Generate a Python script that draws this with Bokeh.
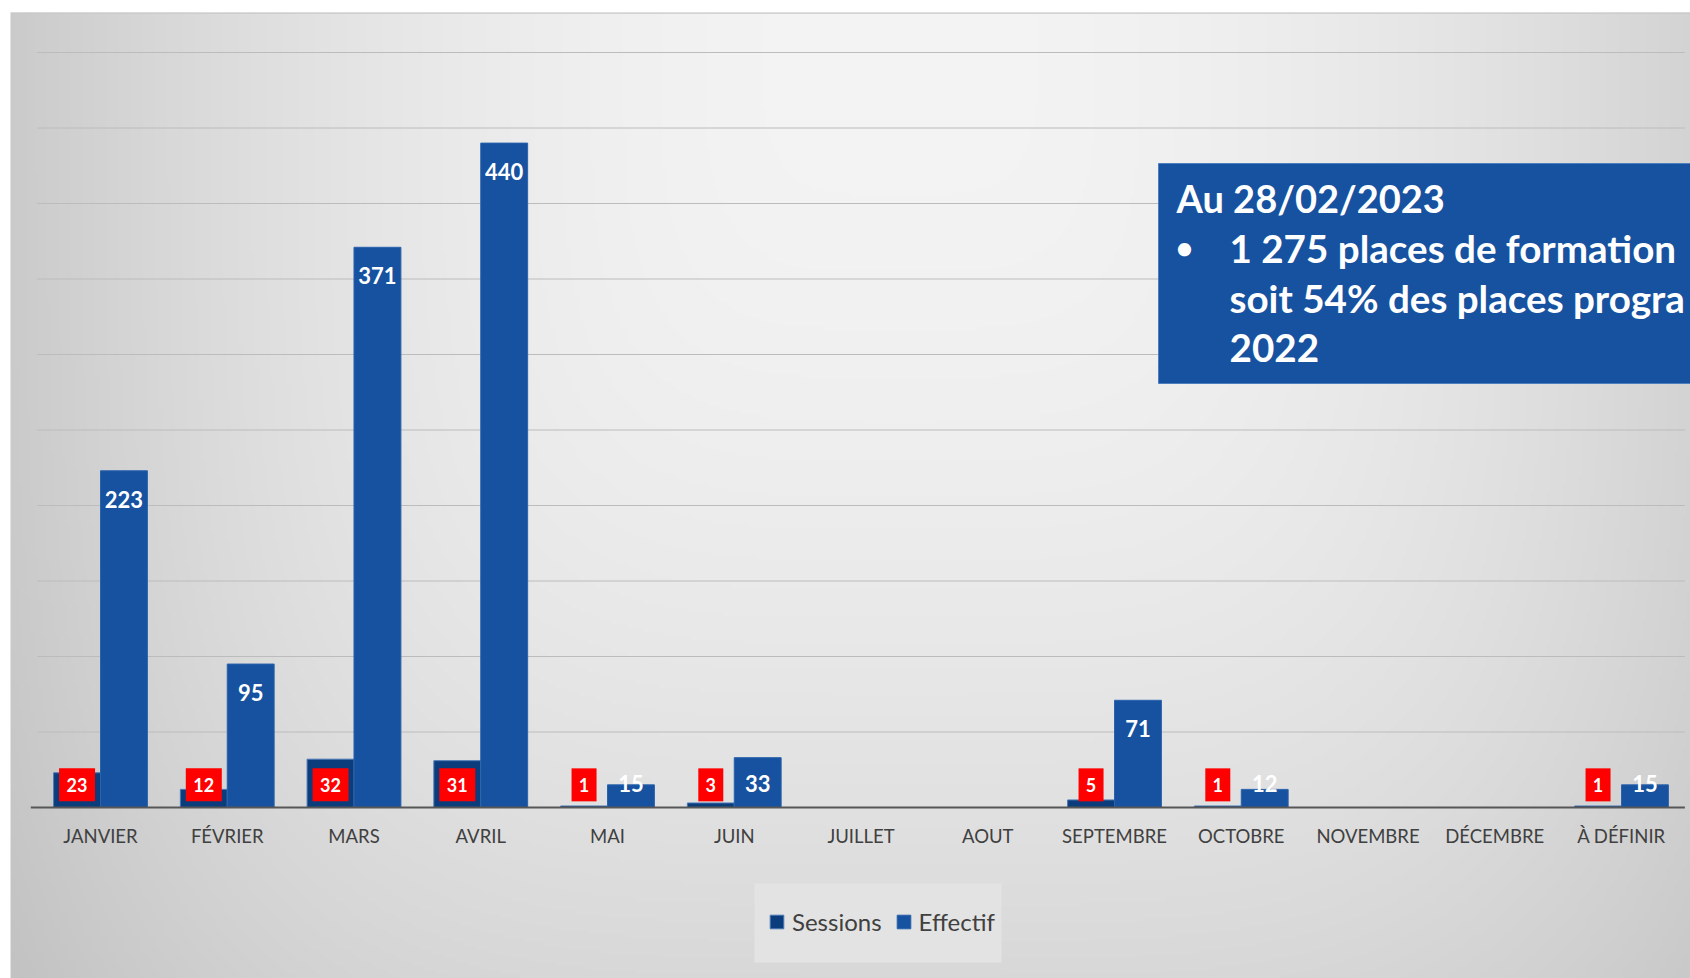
import numpy as np
from bokeh.plotting import figure
from bokeh.models import ColumnDataSource, Range1d, Legend, LegendItem
from bokeh.core.properties import value
from bokeh.transform import dodge
from bokeh.embed import file_html
from bokeh.resources import INLINE

# ---------------- data ----------------
categories = ["JANVIER", "FÉVRIER", "MARS", "AVRIL", "MAI", "JUIN", "JUILLET",
              "AOUT", "SEPTEMBRE", "OCTOBRE", "NOVEMBRE", "DÉCEMBRE", "À DÉFINIR"]
sessions = [23, 12, 32, 31, 1, 3, None, None, 5, 1, None, None, 1]
effectif = [223, 95, 371, 440, 15, 33, None, None, 71, 12, None, None, 15]
grid_values = [50, 100, 150, 200, 250, 300, 350, 400, 450, 500]
legend_labels = ["Sessions", "Effectif"]
note_title = "Au 28/02/2023"
note_lines = ["1 275 places de formation", "soit 54% des places progra", "2022"]

# ---------------- layout helpers (page pixels -> data) ----------------
W, H = 1690, 978
X0, DX = 100.0, 126.75   # page x of first category centre, px per category
Y0, DY = 807.0, 1.51     # page y of value 0, px per unit
LEFT, TOP = 10, 12       # panel origin on the page


def X(px):
    return (px - X0) / DX


def Y(py):
    return (Y0 - py) / DY


p = figure(width=W, height=H, output_backend="svg", toolbar_location=None,
           x_range=Range1d(X(LEFT), X(W)), y_range=Range1d(Y(H), Y(TOP)),
           x_axis_location=None, y_axis_location=None,
           min_border_left=LEFT, min_border_top=TOP, min_border_right=0, min_border_bottom=0,
           border_fill_color="white", background_fill_color="#dcdcdc",
           outline_line_color=None)
for g in p.grid:
    g.visible = False

# ---------------- gradient background ----------------
nx, ny = 420, 240
gx = np.linspace(LEFT, W, nx)
gy = np.linspace(H, TOP, ny)
GX, GY = np.meshgrid(gx, gy)
drop = np.sqrt((5.2e-5 * (GX - 900) ** 2) ** 2 + (3.0e-5 * (GY - TOP) ** 2) ** 2)
gray = np.clip(244 - drop, 0, 255).astype(np.uint32)
img = ((np.uint32(255) << 24) | (gray << 16) | (gray << 8) | gray).astype(np.uint32)
p.image_rgba(image=[np.ascontiguousarray(img)], x=X(LEFT), y=Y(H),
             dw=X(W) - X(LEFT), dh=Y(TOP) - Y(H))

# panel top edge
p.segment(x0=X(LEFT), x1=X(W), y0=Y(TOP + 0.5), y1=Y(TOP + 0.5),
          line_color="#c8c8c8", line_width=1.5)

# ---------------- gridlines ----------------
n = len(categories)
p.segment(x0=-0.5, x1=n - 0.5, y0=grid_values, y1=grid_values,
          line_color="#bcbcbc", line_width=1)

# ---------------- bars ----------------
x = np.arange(n)
s = np.array([np.nan if v is None else v for v in sessions], float)
e = np.array([np.nan if v is None else v for v in effectif], float)
src = ColumnDataSource(dict(x=x, s=s, e=e))
bar_w, off = 0.37, 0.185
rs = p.vbar(x=dodge("x", -off, range=p.x_range), top="s", bottom=0, width=bar_w,
            fill_color="#0b3c7c", line_color="#4a78b5", line_width=1, source=src)
re_ = p.vbar(x=dodge("x", off, range=p.x_range), top="e", bottom=0, width=bar_w,
             fill_color="#1652a0", line_color="#2a62ac", line_width=1, source=src)

# axis baseline
p.segment(x0=-0.55, x1=n - 0.5, y0=0, y1=0, line_color="#575757", line_width=2.2)

# ---------------- data labels ----------------
ms = ~np.isnan(s)
sx = x[ms] - off
sv = s[ms].astype(int)
sy = np.maximum(sv - 19, 15)
sw = [14 + 11 * len(str(v)) for v in sv]
p.rect(x=sx, y=sy, width=sw, height=33, width_units="screen", height_units="screen",
       fill_color="#ff0000", line_color=None)
p.text(x=sx, y=sy, text=[str(v) for v in sv], text_align="center", text_baseline="middle",
       text_font=value("Lato"), text_font_style="bold", text_font_size="18px",
       text_color="white")

me = ~np.isnan(e)
ex = x[me] + off
ev = e[me].astype(int)
ey = np.maximum(ev - 19, 16)
p.text(x=ex, y=ey, text=[str(v) for v in ev], text_align="center", text_baseline="middle",
       text_font=value("Lato"), text_font_style="bold", text_font_size="22px",
       text_color="white")

# ---------------- category labels ----------------
p.text(x=x, y=[Y(835)] * n, text=categories, text_align="center", text_baseline="middle",
       text_font=value("Lato"), text_font_size="18.5px", text_color="#404040")

# ---------------- note box ----------------
p.quad(left=X(1158), right=X(W + 20), top=Y(163), bottom=Y(383),
       fill_color="#1752a1", line_color="#4d7fbf", line_width=1)
note_font = dict(text_font=value("Lato"), text_font_style="bold",
                 text_color="white", text_baseline="middle")
p.text(x=[X(1176)], y=[Y(197)], text=[note_title], text_align="left",
       text_font_size="38px", **note_font)
p.text(x=[X(1184)], y=[Y(246)], text=["•"], text_align="center",
       text_font_size="30px", **note_font)
p.text(x=[X(1229)] * 3, y=[Y(247), Y(297), Y(347)], text=note_lines, text_align="left",
       text_font_size="38.6px", **note_font)

# ---------------- legend ----------------
p.quad(left=X(754), right=X(1001), top=Y(883), bottom=Y(962),
       fill_color="#e3e3e3", line_color=None)
legend = Legend(items=[LegendItem(label=legend_labels[0], renderers=[rs]),
                       LegendItem(label=legend_labels[1], renderers=[re_])],
                orientation="horizontal", location=(758, H - 962 + 19), padding=18, spacing=13,
                label_standoff=7, glyph_width=17, glyph_height=17, label_height=43,
                label_text_font="Lato", label_text_font_size="24px",
                label_text_color="#404040", label_text_baseline="middle",
                background_fill_alpha=0, border_line_color=None, margin=0)
p.add_layout(legend)

open("out.html", "w").write(file_html(p, INLINE))
